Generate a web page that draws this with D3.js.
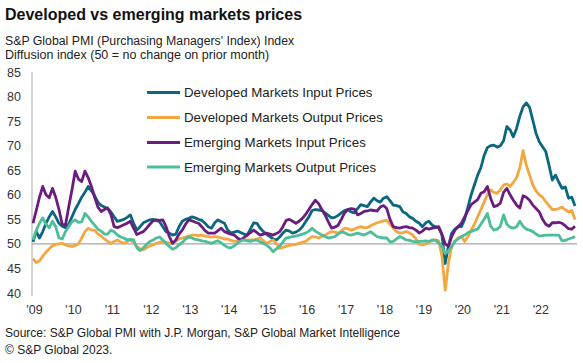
<!DOCTYPE html>
<html>
<head>
<meta charset="utf-8">
<script src="https://cdn.jsdelivr.net/npm/d3@7"></script>
<style>
  html, body { margin: 0; padding: 0; background: #fff; }
  svg { display: block; font-family: "Liberation Sans", Arial, sans-serif; }
</style>
</head>
<body>
<svg id="chart" width="583" height="363"></svg>
<script>
// ---- Data (monthly, Jan 2009 - Dec 2022) ----
const yearLabels = ["'09","'10","'11","'12","'13","'14","'15","'16","'17","'18","'19","'20","'21","'22"];
const yTicks = [40,45,50,55,60,65,70,75,80,85];
const seriesNames = ["Developed Markets Input Prices","Developed Markets Output Prices","Emerging Markets Input Prices","Emerging Markets Output Prices"];
const seriesColors = ["#0b6780","#f4a640","#6b1d7f","#4dbd9a"];

const dmInput = [
50.4,52.5,51.2,52.5,54.2,55.5,56.6,55.5,54.2,53.6,53.3,54.0,
55.5,57,58.2,59.5,60.5,61.7,60.8,59.8,58.5,57.8,57.5,57.2,
56.5,55.5,54.6,54.8,55,55.4,55.9,54.2,52.8,53.5,54.3,54.6,
54.9,55,54.8,54.5,53.5,52.5,52.2,51.8,52,53.5,54.6,55,
55.2,55.5,55.3,55,54.8,54.2,53.5,53.2,54.3,54.9,54.5,54.2,
52.8,52.2,52.4,52.6,52.3,52,51.8,53,54.3,54.2,53.2,52.5,
51.9,51.5,51,50.8,51.4,52.2,52.8,52.6,52.2,52.4,52.8,53.5,
54.5,55.5,56.8,57,56.9,56.8,56.3,55.8,55.3,55.4,55.8,56.3,
56.8,57,56.5,56.3,57.2,58,57.8,57.6,58.5,59.3,58.8,58.5,
59.3,59.6,58.8,57.9,57.8,57.6,56.5,56.2,55.5,55.2,54.6,54.2,
53.5,54.3,54.6,53.8,53.5,53.3,51.8,46,49.5,52.2,53,53.5,
53.5,55,57.5,60,62,64,65.5,68,69.6,70,70.1,69.7,
70,71,73.9,73.2,71.8,73.5,76,77.9,78.7,77.8,75.2,72.5,
70.8,69.8,68.8,66,63,64,62.6,61.3,61.6,59.3,59.5,57.7
];
const dmOutput = [
47,46.2,46.5,47.5,48.3,49,49.6,49.9,50,50.1,49.8,49.6,
49.5,49.7,50,51.2,52.5,53.2,52.8,52.8,52,51.6,51,50.5,
50.1,50.5,50.8,50.4,50.1,50.5,50.8,50.2,49.5,49,48.8,49.2,
49.6,49.8,50.1,50.3,50.5,50.3,50.1,50.2,50.6,51,51.2,51.4,
51.6,51.8,51.8,51.7,51.8,51.6,51.5,51.4,51.5,51.4,51.2,51,
51,50.7,50.5,50.6,50.8,50.8,50.8,50.8,50.8,51,51.2,50.6,
50.1,50.5,50.8,50,49.1,49.3,49.5,49.7,49.8,49.9,50.1,50.3,
50.5,51,51.5,51.4,51.2,51.5,51.8,52.2,52.5,52.4,52.2,52.6,
53.2,53.1,52.8,53,53.3,53.5,53.3,53.3,53.7,54,54.3,54.5,
54.7,54.8,54,53.2,52.5,52.2,52.3,52.5,52.2,51.8,51,49.9,
49.8,50,50.3,50.7,50.8,50.6,47.5,40.6,46,49.5,50.6,51.2,
51.5,50.5,51.5,52.8,54,55.5,57,58.5,60,61,60.5,60.3,
61,62,62.2,61.7,62.5,63.5,65.5,69,66,64,62,60.8,
60,59.5,58.6,57.8,57,57,57.2,57.5,57,56.5,56.8,54.9
];
const emInput = [
54.2,56.8,59.5,61.7,60,59.4,61.3,59.5,57,54,53.8,57.5,
61,64.8,63.2,62.7,64.8,63.5,61.7,59.5,57.5,56.6,57,57.3,
56,53.5,53.3,53.6,53.9,54.2,54.6,53.2,51.9,52.2,52.5,53.2,
54,54.7,54.9,54.8,54.9,53.5,51.5,50.1,50.8,52,52.8,54,
54.9,54.7,54.4,54.2,53.5,52.7,52.2,52.2,52.2,52.7,53.2,52.5,
52.2,52,51.8,51.2,50.8,51.3,51.8,52.3,52.8,52.3,51.8,52,
52.2,52,51.8,52.1,52.5,53.5,54.8,55,54.6,54.2,54.6,55.2,
56,57,58,58.9,58.2,57,55.9,54.5,53.2,53.4,53.8,55,
56.3,57,57.2,57.1,55.9,56.2,56.6,56.7,56.9,56.8,56.7,57.5,
57.8,57.2,55,53.5,53.3,53.2,53.4,53.5,53.3,53.2,52.8,52.2,
52.6,53.2,53,53.2,53.3,53.5,52,50,49.5,51.5,52.8,53.5,
54.2,55.5,56.8,58,58.5,59,60.3,60.6,61.7,59.3,57.6,57.8,
58.3,60.5,61.3,60,58.9,57.9,57.3,59.8,59.5,58.9,57.9,57.2,
56.5,55,54,53.6,54.3,54.3,54.4,54.2,53.7,53.1,53,53.6
];
const emOutput = [
50.8,52.8,54.2,55.3,54,53.3,54.6,53.5,51.2,51,52.5,53.5,
54.5,54.9,54.4,54.5,56.2,55.5,54.6,53.8,53,52.6,52,52,
52.8,52.5,51.8,51.4,51.2,50.8,50.9,50.8,49.2,48.6,49.2,49.9,
50.5,50.8,51.2,51.4,50.8,50.1,49.5,48.9,49.2,49.8,50.3,51,
51.4,51.2,50.9,50.8,50.6,50.5,50.3,50.1,50.4,50.6,50.2,49.7,
49.3,49.2,49.6,50.1,50.6,50.8,50.6,50.5,50.7,50.8,50.4,50.1,
49.7,49.2,48.4,49,49.5,50.4,51.2,51.3,51.5,51.6,51.8,52,
52.2,52.6,53.2,52.6,52.2,51.8,51.5,51.2,51.3,51.5,52,52.4,
52.3,51.9,51.8,52,52.2,52,51.8,52.1,52.5,52,51.5,51.3,
51.2,51.2,50.4,50.5,51,51.5,51.2,50.8,50.7,50.5,50.4,50.5,
50.5,50.6,50.5,50.8,50.7,50.2,49.5,48,48.6,49.4,50.5,51,
51.5,51.8,52.3,52.5,52.8,53,54,55,56.2,53.6,52.8,53,
53.6,55.9,54,53.4,53.2,53.5,54.6,53.6,53,52.8,52.5,52,
51.6,51.7,51.8,51.8,51.8,51.8,51.8,50.6,50.7,51,51.2,51.5
];
const seriesData = [dmInput, dmOutput, emInput, emOutput];

// ---- Chart ----
const svg = d3.select("#chart");
const nPts = dmInput.length;
const x = d3.scaleLinear().domain([0, nPts - 1]).range([33, 575]);
const y = d3.scaleLinear().domain([40, 85]).range([293, 72]);

// Title & subtitle
svg.append("text").attr("x", 5).attr("y", 20)
  .attr("font-size", 16).attr("font-weight", "bold").attr("fill", "#111")
  .text("Developed vs emerging markets prices");
svg.append("text").attr("x", 5).attr("y", 45)
  .attr("font-size", 12.3).attr("fill", "#222")
  .text("S&P Global PMI (Purchasing Managers' Index) Index");
svg.append("text").attr("x", 5).attr("y", 59)
  .attr("font-size", 12.5).attr("fill", "#222")
  .text("Diffusion index (50 = no change on prior month)");

// Y axis labels
const yAxis = d3.axisLeft(y).tickValues(yTicks).tickSize(0).tickPadding(0);
const gy = svg.append("g").attr("transform", "translate(21,0)").call(yAxis);
gy.select(".domain").remove();
gy.selectAll("text").attr("font-size", 12.5).attr("fill", "#333")
  .attr("font-family", "Liberation Sans, Arial, sans-serif");

// Y axis line
svg.append("line").attr("x1", 32).attr("x2", 32)
  .attr("y1", y(85)).attr("y2", y(40) + 3)
  .attr("stroke", "#aaa").attr("stroke-width", 1);

// 50 reference line
svg.append("line").attr("x1", 32).attr("x2", 577)
  .attr("y1", y(50)).attr("y2", y(50))
  .attr("stroke", "#a6a6a6").attr("stroke-width", 1.2);

// X axis labels
const xAxis = d3.axisBottom(x)
  .tickValues(yearLabels.map((d, i) => i * 12))
  .tickFormat((d, i) => yearLabels[i]).tickSize(0).tickPadding(0);
const gx = svg.append("g").attr("transform", "translate(1,305)").call(xAxis);
gx.select(".domain").remove();
gx.selectAll("text").attr("font-size", 12.5).attr("fill", "#333")
  .attr("font-family", "Liberation Sans, Arial, sans-serif");

// Lines
const line = d3.line().x((d, i) => x(i)).y(d => y(d)).curve(d3.curveLinear);
seriesData.forEach((s, k) => {
  svg.append("path").datum(s)
    .attr("fill", "none").attr("stroke", seriesColors[k])
    .attr("stroke-width", 2.8).attr("stroke-linejoin", "round")
    .attr("d", line);
});

// Legend
const legY = [92.5, 117.5, 142.5, 167];
seriesNames.forEach((name, k) => {
  const g = svg.append("g");
  g.append("line").attr("x1", 147).attr("x2", 180)
    .attr("y1", legY[k]).attr("y2", legY[k])
    .attr("stroke", seriesColors[k]).attr("stroke-width", 3);
  g.append("text").attr("x", 184).attr("y", legY[k] + 4.7)
    .attr("font-size", 13.3).attr("fill", "#222").text(name);
});

// Source
svg.append("text").attr("x", 5).attr("y", 337)
  .attr("font-size", 12).attr("fill", "#222")
  .text("Source: S&P Global PMI with J.P. Morgan, S&P Global Market Intelligence");
svg.append("text").attr("x", 5).attr("y", 354)
  .attr("font-size", 12).attr("fill", "#222")
  .text("© S&P Global 2023.");
</script>
</body>
</html>
